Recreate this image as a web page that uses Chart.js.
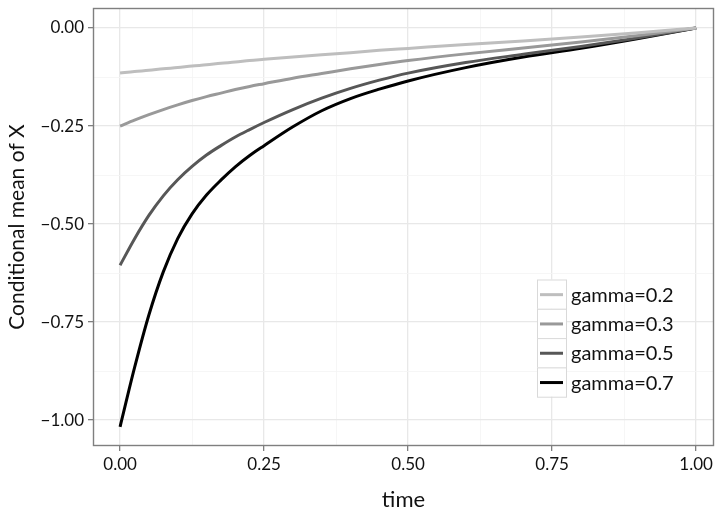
<!DOCTYPE html>
<html>
<head>
<meta charset="utf-8">
<script src="https://cdn.jsdelivr.net/npm/chart.js@4.4.1/dist/chart.umd.min.js"></script>
<style>
  html, body { margin: 0; padding: 0; background: #ffffff; }
  #wrap { width: 716px; height: 513px; }
</style>
</head>
<body>
<div id="wrap"><canvas id="c" width="716" height="513"></canvas></div>
<script>
// ---- data ----
const timePoints = [0, 0.025, 0.05, 0.075, 0.1, 0.125, 0.15, 0.175, 0.2, 0.225, 0.25, 0.3, 0.35, 0.4, 0.45, 0.5, 0.6, 0.7, 0.8, 0.9, 1.0];
const gamma02 = [-0.115, -0.111, -0.108, -0.104, -0.101, -0.097, -0.094, -0.090, -0.087, -0.083, -0.080, -0.074, -0.068, -0.063, -0.057, -0.052, -0.042, -0.033, -0.023, -0.012, 0.000];
const gamma03 = [-0.250, -0.235, -0.221, -0.208, -0.196, -0.185, -0.175, -0.166, -0.157, -0.149, -0.142, -0.128, -0.116, -0.104, -0.093, -0.083, -0.066, -0.051, -0.036, -0.019, 0.000];
const gamma05 = [-0.605, -0.538, -0.478, -0.428, -0.387, -0.353, -0.324, -0.300, -0.278, -0.259, -0.241, -0.208, -0.179, -0.154, -0.133, -0.115, -0.088, -0.067, -0.047, -0.025, 0.000];
const gamma07 = [-1.017, -0.867, -0.732, -0.622, -0.537, -0.474, -0.426, -0.388, -0.354, -0.325, -0.300, -0.252, -0.211, -0.180, -0.156, -0.135, -0.101, -0.074, -0.052, -0.027, 0.000];
const seriesLabels = ["gamma=0.2", "gamma=0.3", "gamma=0.5", "gamma=0.7"];
const xMajorTicks = [0, 0.25, 0.5, 0.75, 1.0];
const xMinorTicks = [0.125, 0.375, 0.625, 0.875];
const yMajorTicks = [-1.0, -0.75, -0.5, -0.25, 0.0];
const yMinorTicks = [-0.875, -0.625, -0.375, -0.125];
const xTitle = "time";
const yTitle = "Conditional mean of X";

const colors = ["#bebebe", "#999999", "#575757", "#000000"];
const allSeries = [gamma02, gamma03, gamma05, gamma07];

const FONT = "Lato, 'Liberation Sans', sans-serif";

function fmt(v) {
  const s = Math.abs(v).toFixed(2);
  return (v < -1e-9 ? "\u2212" : "") + s;
}

function buildTicks(majors, minors) {
  return function(scale) {
    const t = [];
    majors.forEach(v => t.push({ value: v, major: true }));
    minors.forEach(v => t.push({ value: v, major: false }));
    t.sort((a, b) => a.value - b.value);
    scale.ticks = t;
  };
}

const datasets = allSeries.map((vals, i) => ({
  label: seriesLabels[i],
  data: timePoints.map((t, j) => ({ x: t, y: vals[j] })),
  borderColor: colors[i],
  backgroundColor: colors[i],
  borderWidth: 3,
  pointRadius: 0,
  cubicInterpolationMode: 'monotone',
  fill: false
}));

const panelPlugin = {
  id: 'panel',
  afterDraw(chart) {
    const ctx = chart.ctx;
    const a = chart.chartArea;
    ctx.save();
    ctx.strokeStyle = '#7f7f7f';
    ctx.lineWidth = 1.4;
    ctx.strokeRect(a.left + 0.5, a.top + 0.5, a.right - a.left - 1, a.bottom - a.top - 1);
    // legend
    const lx = 537, ly = 279.5, kw = 29, kh = 29.3;
    ctx.font = "20px " + FONT;
    ctx.textBaseline = 'middle';
    ctx.textAlign = 'left';
    chart.data.datasets.forEach((ds, i) => {
      const y0 = ly + i * kh;
      ctx.fillStyle = '#ffffff';
      ctx.fillRect(lx, y0, kw, kh);
      ctx.strokeStyle = '#d9d9d9';
      ctx.lineWidth = 1;
      ctx.strokeRect(lx + 0.5, y0 + 0.5, kw, kh);
      ctx.strokeStyle = ds.borderColor;
      ctx.lineWidth = 3;
      ctx.beginPath();
      ctx.moveTo(lx + 3, y0 + kh / 2 + 0.5);
      ctx.lineTo(lx + kw - 3, y0 + kh / 2 + 0.5);
      ctx.stroke();
      ctx.fillStyle = '#111111';
      ctx.fillText(ds.label, lx + kw + 5, y0 + kh / 2 + 1);
    });
    ctx.restore();
  }
};

new Chart(document.getElementById('c'), {
  type: 'line',
  data: { datasets },
  options: {
    responsive: false,
    animation: false,
    layout: { padding: { top: 8, right: 2, left: 0, bottom: 0 } },
    plugins: { legend: { display: false }, tooltip: { enabled: false } },
    scales: {
      x: {
        type: 'linear',
        min: -0.047,
        max: 1.031,
        afterBuildTicks: buildTicks(xMajorTicks, xMinorTicks),
        afterFit(scale) { scale.height = 67; scale.paddingLeft = 0; scale.paddingRight = 0; },
        border: { display: false },
        grid: {
          color: ctx => (ctx.tick && ctx.tick.major) ? '#e8e8e8' : '#f4f4f4',
          lineWidth: ctx => (ctx.tick && ctx.tick.major) ? 1.3 : 0.8,
          tickColor: ctx => (ctx.tick && ctx.tick.major) ? '#7f7f7f' : 'rgba(0,0,0,0)',
          tickLength: 5,
          drawTicks: true
        },
        ticks: {
          autoSkip: false,
          maxRotation: 0,
          padding: 3,
          color: '#111111',
          font: { family: FONT, size: 17 },
          callback: (v) => xMajorTicks.some(m => Math.abs(m - v) < 1e-9) ? fmt(v) : ''
        },
        title: {
          display: true,
          text: xTitle,
          color: '#111111',
          font: { family: FONT, size: 22 },
          padding: { top: 0, bottom: 0 }
        }
      },
      y: {
        type: 'linear',
        min: -1.066,
        max: 0.051,
        afterBuildTicks: buildTicks(yMajorTicks, yMinorTicks),
        afterFit(scale) { scale.width = 93; scale.paddingTop = 0; scale.paddingBottom = 0; },
        border: { display: false },
        grid: {
          color: ctx => (ctx.tick && ctx.tick.major) ? '#e8e8e8' : '#f4f4f4',
          lineWidth: ctx => (ctx.tick && ctx.tick.major) ? 1.3 : 0.8,
          tickColor: ctx => (ctx.tick && ctx.tick.major) ? '#7f7f7f' : 'rgba(0,0,0,0)',
          tickLength: 5,
          drawTicks: true
        },
        ticks: {
          autoSkip: false,
          padding: 4,
          color: '#111111',
          font: { family: FONT, size: 17 },
          callback: (v) => yMajorTicks.some(m => Math.abs(m - v) < 1e-9) ? fmt(v) : ''
        },
        title: {
          display: true,
          text: yTitle,
          color: '#111111',
          font: { family: FONT, size: 21 },
          padding: { top: 5, bottom: 4 }
        }
      }
    }
  },
  plugins: [panelPlugin]
});
</script>
</body>
</html>
